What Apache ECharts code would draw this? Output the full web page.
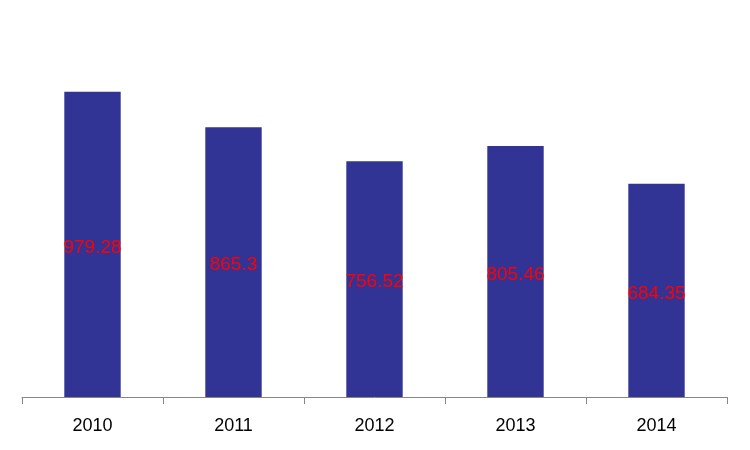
<!DOCTYPE html>
<html>
<head>
<meta charset="utf-8">
<script src="https://cdn.jsdelivr.net/npm/echarts@6/dist/echarts.min.js"></script>
<style>html,body{margin:0;padding:0;background:#fff;}#c{width:750px;height:450px;}</style>
</head>
<body>
<div id="c"></div>
<script>
const categories = ['2010', '2011', '2012', '2013', '2014'];
const values = [979.28, 865.3, 756.52, 805.46, 684.35];

const chart = echarts.init(document.getElementById('c'), null, {renderer: 'canvas'});
chart.setOption({
  animation: false,
  backgroundColor: '#ffffff',
  grid: {left: 22, right: 23, top: 23, bottom: 53, containLabel: false},
  xAxis: {
    type: 'category',
    data: categories,
    boundaryGap: true,
    axisLine: {lineStyle: {color: '#868686', width: 1}},
    axisTick: {show: true, length: 7, lineStyle: {color: '#868686'}},
    axisLabel: {color: '#000', fontSize: 18, fontFamily: 'Liberation Sans, Arial, sans-serif', margin: 20}
  },
  yAxis: {
    type: 'value',
    min: 0, max: 1200,
    show: false,
    splitLine: {show: false}
  },
  series: [{
    type: 'bar',
    data: values,
    barWidth: '40%',
    itemStyle: {color: '#313395'},
    label: {
      show: true,
      position: 'inside',
      offset: [0, 3],
      color: '#ff0000',
      fontSize: 19,
      fontFamily: 'Liberation Sans, Arial, sans-serif'
    }
  }]
});
</script>
</body>
</html>
